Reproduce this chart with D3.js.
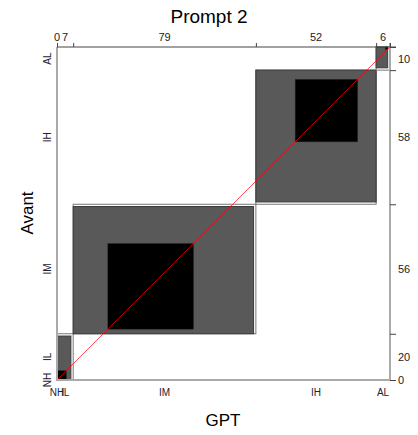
<!DOCTYPE html>
<html>
<head>
  <meta charset="utf-8">
  <script src="https://d3js.org/d3.v7.min.js"></script>
  <style type="text/css">
    body { margin: 0; background: #fff; }
    text { font-family: "Liberation Sans", Arial, sans-serif; }
  </style>
</head>
<body>
<div id="chart"></div>
<script>
    var width = 418;
    var height = 435;

    // categories, same order on both axes
    var cats = ["NH", "IL", "IM", "IH", "AL"];
    // column totals (GPT) and row totals (Avant)
    var colTotals = [0, 7, 79, 52, 6];
    var rowTotals = [0, 20, 56, 58, 10];
    // partial agreement rectangles (offset inside box + size, in counts)
    var partX = [0, 0, 0, 0, 0];
    var partY = [0, 0, 0, 1, 1];
    var partW = [0, 6, 78, 52, 5];
    var partH = [0, 19, 55, 57, 9];
    // exact agreement squares (diagonal counts + offsets inside box)
    var agree = [0, 4, 37, 27, 1];
    var agreeX = [0, 0, 15, 17, 4];
    var agreeY = [0, 0, 2, 27, 9];

    var total = d3.sum(colTotals);
    var x0 = [0], y0 = [0];
    colTotals.forEach(function(d, i) { x0.push(x0[i] + d); });
    rowTotals.forEach(function(d, i) { y0.push(y0[i] + d); });

    var x = d3.scaleLinear().domain([0, total]).range([57, 390]);
    var y = d3.scaleLinear().domain([0, total]).range([380, 47]);

    var svg = d3.select("#chart").append("svg")
                .attr("width", width)
                .attr("height", height);

    var boxes = svg.append("g");
    cats.forEach(function(c, i) {
      // whole box
      boxes.append("rect")
        .attr("x", x(x0[i])).attr("y", y(y0[i] + rowTotals[i]))
        .attr("width", x(colTotals[i]) - x(0))
        .attr("height", y(0) - y(rowTotals[i]))
        .attr("fill", "#fff").attr("stroke", "#777").attr("stroke-width", 1);
      // partial agreement
      boxes.append("rect")
        .attr("x", x(x0[i] + partX[i])).attr("y", y(y0[i] + partY[i] + partH[i]))
        .attr("width", x(partW[i]) - x(0))
        .attr("height", y(0) - y(partH[i]))
        .attr("fill", "#595959").attr("stroke", "#3a3a3a").attr("stroke-width", 1);
      // exact agreement
      boxes.append("rect")
        .attr("x", x(x0[i] + agreeX[i])).attr("y", y(y0[i] + agreeY[i] + agree[i]))
        .attr("width", x(agree[i]) - x(0))
        .attr("height", y(0) - y(agree[i]))
        .attr("fill", "#000").attr("stroke", "#222").attr("stroke-width", 0.5);
    });

    // diagonal reference line
    svg.append("line")
      .attr("x1", x(0)).attr("y1", y(0))
      .attr("x2", x(total)).attr("y2", y(total))
      .attr("stroke", "red").attr("stroke-width", 0.8).attr("opacity", 0.85);

    // frame lines (left, bottom, right)
    svg.append("line").attr("x1", x(0)).attr("x2", x(0)).attr("y1", y(total)).attr("y2", y(0))
      .attr("stroke", "#aaa").attr("stroke-width", 2);
    svg.append("line").attr("x1", x(0)).attr("x2", x(total)).attr("y1", y(0)).attr("y2", y(0))
      .attr("stroke", "#aaa").attr("stroke-width", 2);
    svg.append("line").attr("x1", x(total)).attr("x2", x(total)).attr("y1", y(total) - 4).attr("y2", y(0))
      .attr("stroke", "#aaa").attr("stroke-width", 2);

    // top axis: column totals
    var topAxis = d3.axisTop(x).tickValues(x0).tickFormat("").tickSize(4).tickSizeOuter(0);
    var gt = svg.append("g").attr("transform", "translate(0," + y(total) + ")").call(topAxis);
    gt.select(".domain").attr("stroke", "#444").attr("d", "M" + x(0) + ",0H" + (x(total) + 6));
    gt.selectAll(".tick line").attr("stroke", "#444");

    // right axis: row totals
    var rightAxis = d3.axisRight(y).tickValues(y0).tickFormat("").tickSize(6).tickSizeOuter(0);
    var gr = svg.append("g").attr("transform", "translate(" + x(total) + ",0)").call(rightAxis);
    gr.select(".domain").remove();
    gr.selectAll(".tick line").attr("stroke", "#444");

    // count labels at the middle of each band
    svg.selectAll(".colnum").data(colTotals).enter().append("text")
      .attr("x", function(d, i) { return x(x0[i] + d / 2); })
      .attr("y", 41)
      .attr("text-anchor", "middle")
      .attr("font-size", 11).attr("fill", "#222")
      .text(function(d) { return d; });

    svg.selectAll(".rownum").data(rowTotals).enter().append("text")
      .attr("x", 398)
      .attr("y", function(d, i) { return y(y0[i] + d / 2) + 4; })
      .attr("font-size", 11).attr("fill", "#222")
      .text(function(d) { return d; });

    // category labels
    svg.selectAll(".xcat").data(cats).enter().append("text")
      .attr("x", function(d, i) { return x(x0[i] + colTotals[i] / 2); })
      .attr("y", 396)
      .attr("text-anchor", "middle")
      .attr("font-size", 10).attr("fill", "#223")
      .text(function(d) { return d; });

    svg.selectAll(".ycat").data(cats).enter().append("text")
      .attr("transform", function(d, i) {
        return "translate(51," + y(y0[i] + rowTotals[i] / 2) + ") rotate(-90)";
      })
      .attr("text-anchor", "middle")
      .attr("font-size", 10).attr("fill", "#223")
      .text(function(d) { return d; });

    // titles
    svg.append("text").attr("x", 209).attr("y", 23)
      .attr("text-anchor", "middle").attr("font-size", 19).attr("fill", "#000")
      .text("Prompt 2");
    svg.append("text").attr("x", 223).attr("y", 426)
      .attr("text-anchor", "middle").attr("font-size", 17).attr("fill", "#000")
      .text("GPT");
    svg.append("text").attr("transform", "translate(33,213) rotate(-90)")
      .attr("text-anchor", "middle").attr("font-size", 17).attr("fill", "#000")
      .text("Avant");
</script>
</body>
</html>
